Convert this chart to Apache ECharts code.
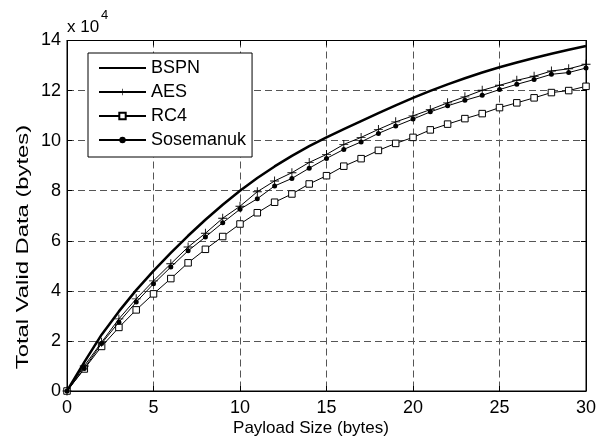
<!DOCTYPE html>
<html>
<head>
<meta charset="utf-8">
<script src="https://cdn.jsdelivr.net/npm/echarts@6/dist/echarts.min.js"></script>
<style>html,body{margin:0;padding:0;background:#fff;}#c{width:600px;height:440px;}</style>
</head>
<body>
<div id="c"></div>
<script>
const payloadSizes = [0,1,2,3,4,5,6,7,8,9,10,11,12,13,14,15,16,17,18,19,20,21,22,23,24,25,26,27,28,29,30];
const bspn = [0,11500,22500,31800,40300,48000,55200,62000,68400,74400,80000,85100,89700,93900,97800,101300,104600,107800,111000,114100,117100,119900,122500,124900,127200,129300,131200,133000,134700,136300,137800];
const aes = [0,10000,19500,28800,36800,44000,50800,57500,63000,69000,73800,79600,83900,87200,91300,94500,98500,101300,104500,107500,109900,112400,115100,117500,120100,122100,124100,125700,127800,128700,130500];
const rc4 = [0,8800,17800,25400,32400,38800,44900,51200,56600,61700,66700,71200,75400,78700,82700,86000,89800,92800,96100,98900,101300,104300,106600,108800,110800,113200,115100,117100,119200,120000,121700];
const sosemanuk = [0,9000,19000,27500,35500,42800,49500,56000,61500,67200,72600,76800,81900,84900,89000,92900,96500,99500,102900,105800,108600,111500,113900,116100,118100,120400,122500,124400,126500,127200,129000];
const seriesNames = ['BSPN','AES','RC4','Sosemanuk'];
const xTitle = 'Payload Size (bytes)';
const yTitle = 'Total Valid Data (bytes)';

const FONT = 'Liberation Sans, Arial, Helvetica, sans-serif';
const pair = arr => payloadSizes.map((x,i)=>[x, arr[i]]);
const plusPath = 'path://M4.5,0H5.5V10H4.5ZM0,4.5H10V5.5H0Z';

const chart = echarts.init(document.getElementById('c'), null, {renderer:'canvas'});
const gridSplit = {show:true, lineStyle:{color:'#555', type:[7,4], width:1}};
const baseX = {
  type:'value', min:0, max:30, interval:5,
  axisLine:{show:true, onZero:false, lineStyle:{color:'#000', width:1}},
  axisTick:{show:true, inside:true, length:5, lineStyle:{color:'#000'}},
};
const baseY = {
  type:'value', min:0, max:140000, interval:20000,
  axisLine:{show:true, onZero:false, lineStyle:{color:'#000', width:1}},
  axisTick:{show:true, inside:true, length:5, lineStyle:{color:'#000'}},
};
chart.setOption({
  animation:false,
  backgroundColor:'#fff',
  grid:{left:67, right:14, top:40.5, bottom:49, show:true, borderColor:'#000', borderWidth:1, backgroundColor:'transparent'},
  xAxis:[
    Object.assign({}, baseX, {
      position:'bottom',
      axisLabel:{fontFamily:FONT, fontSize:18, color:'#000', margin:8, formatter:v=>String(v)},
      splitLine:gridSplit
    }),
    Object.assign({}, baseX, {position:'top', axisLabel:{show:false}, splitLine:{show:false}})
  ],
  yAxis:[
    Object.assign({}, baseY, {
      position:'left',
      axisLabel:{fontFamily:FONT, fontSize:18, color:'#000', margin:6, formatter:v=>String(v/10000)},
      splitLine:gridSplit
    }),
    Object.assign({}, baseY, {position:'right', axisLabel:{show:false}, splitLine:{show:false}})
  ],
  legend:{
    orient:'vertical', left:88, top:53,
    data:[
      {name:'BSPN', itemStyle:{color:'rgba(0,0,0,0)', borderWidth:0}},
      {name:'AES'},
      {name:'RC4'},
      {name:'Sosemanuk'}
    ],
    backgroundColor:'#fff', borderColor:'#000', borderWidth:1,
    padding:[6,6,8,10], itemGap:6, itemWidth:47, itemHeight:8,
    textStyle:{fontFamily:FONT, fontSize:18, color:'#000'}
  },
  graphic:[
    {type:'text', left:67, top:19, style:{text:'x 10', font:'17px '+FONT, fill:'#000'}},
    {type:'text', left:101, top:9, style:{text:'4', font:'13px '+FONT, fill:'#000'}},
    {type:'text', x:311, y:428, style:{text:xTitle, font:'17px '+FONT, fill:'#000', align:'center', verticalAlign:'middle'}},
    {type:'text', x:23, y:247, rotation:Math.PI/2, scaleX:1.4, style:{text:yTitle, font:'17px '+FONT, fill:'#000', align:'center', verticalAlign:'middle'}}
  ],
  series:[
    {name:'BSPN', type:'line', data:pair(bspn), symbol:'none', lineStyle:{color:'#000', width:2.5}, itemStyle:{color:'#000'}, z:5},
    {name:'AES', type:'line', data:pair(aes), symbol:plusPath, symbolSize:9, lineStyle:{color:'#000', width:1}, itemStyle:{color:'#000'}, z:4},
    {name:'RC4', type:'line', data:pair(rc4), symbol:'rect', symbolSize:6.5, lineStyle:{color:'#000', width:1}, itemStyle:{color:'#fff', borderColor:'#000', borderWidth:1}, z:3},
    {name:'Sosemanuk', type:'line', data:pair(sosemanuk), symbol:'circle', symbolSize:5, lineStyle:{color:'#000', width:1}, itemStyle:{color:'#000'}, z:4}
  ]
});
</script>
</body>
</html>
